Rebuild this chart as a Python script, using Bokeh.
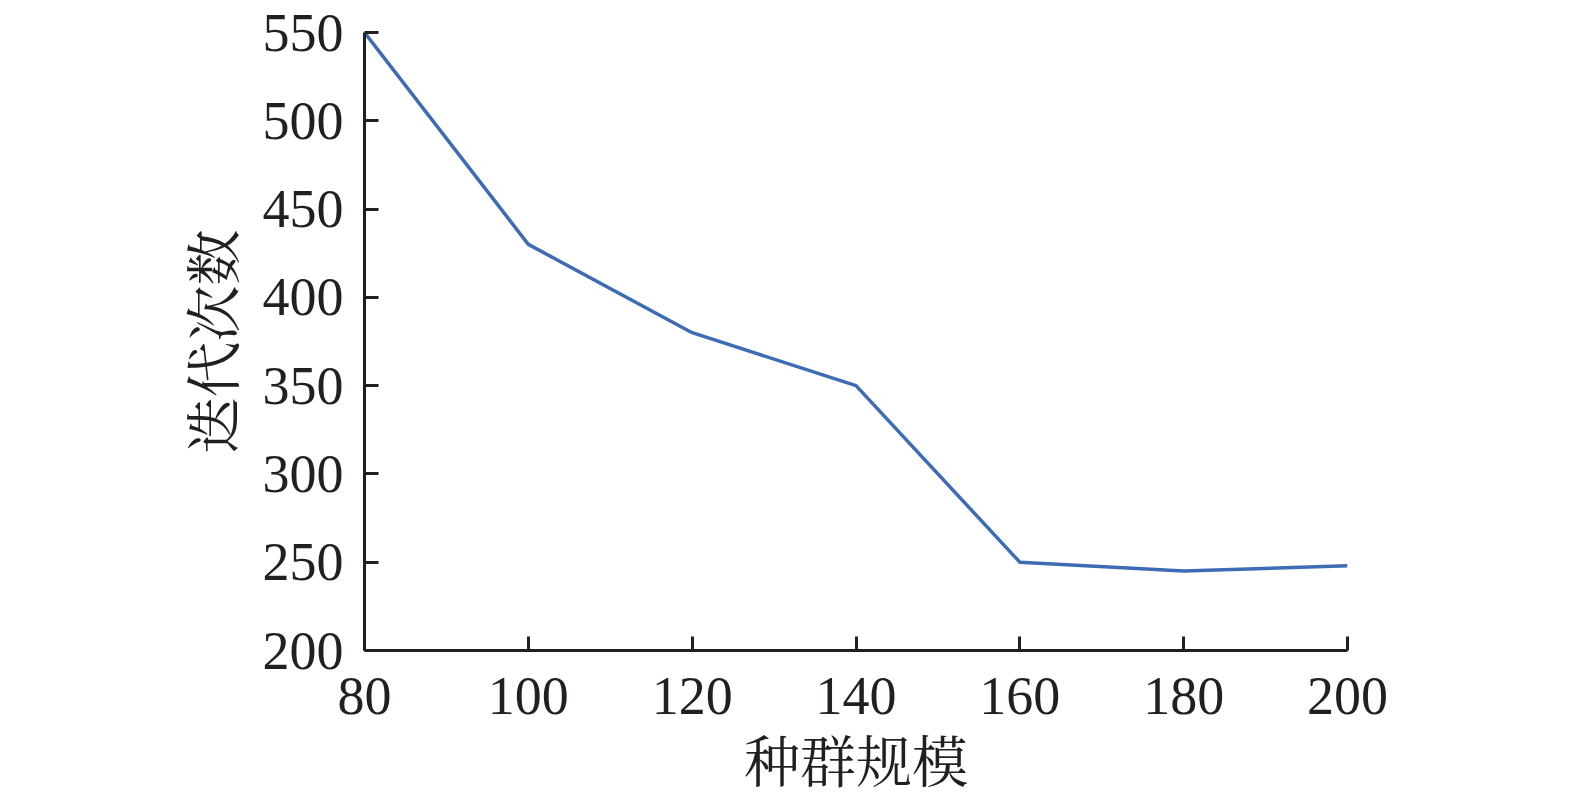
from bokeh.plotting import figure
from bokeh.models import Range1d, FixedTicker
from bokeh.embed import file_html
from bokeh.resources import INLINE

population = [80, 100, 120, 140, 160, 180, 200]
iterations = [550, 430, 380, 350, 250, 245, 248]
x_ticks = [80, 100, 120, 140, 160, 180, 200]
y_ticks = [200, 250, 300, 350, 400, 450, 500, 550]

p = figure(frame_width=983, frame_height=618, output_backend="svg", toolbar_location=None,
           x_range=Range1d(80, 200), y_range=Range1d(200, 550),
           min_border_left=364, min_border_top=32, min_border_bottom=120, min_border_right=200)
p.outline_line_color = None
p.xgrid.visible = False
p.ygrid.visible = False
p.background_fill_color = "white"
p.border_fill_color = "white"

p.line(population, iterations, line_color="#3d6cb4", line_width=3.5)

serif = "Liberation Serif"
cjk = "Noto Serif CJK SC, Noto Sans CJK SC"
for ax, ticks in ((p.xaxis[0], x_ticks), (p.yaxis[0], y_ticks)):
    ax.ticker = FixedTicker(ticks=ticks)
    ax.axis_line_color = "#231f20"
    ax.axis_line_width = 3
    ax.major_tick_line_color = "#231f20"
    ax.major_tick_line_width = 3
    ax.major_tick_in = 14
    ax.major_tick_out = 0
    ax.minor_tick_line_color = None
    ax.major_label_text_font = serif
    ax.major_label_text_font_size = "54px"
    ax.major_label_text_color = "#231f20"
    ax.axis_label_text_font = cjk
    ax.axis_label_text_font_size = "56px"
    ax.axis_label_text_font_style = "normal"
    ax.axis_label_text_color = "#231f20"

p.xaxis.axis_label = "种群规模"
p.yaxis.axis_label = "迭代次数"
p.xaxis.major_label_standoff = 27
p.yaxis.major_label_standoff = 21
p.xaxis.axis_label_standoff = 1
p.yaxis.axis_label_standoff = 10

open("out.html", "w").write(file_html(p, INLINE))
